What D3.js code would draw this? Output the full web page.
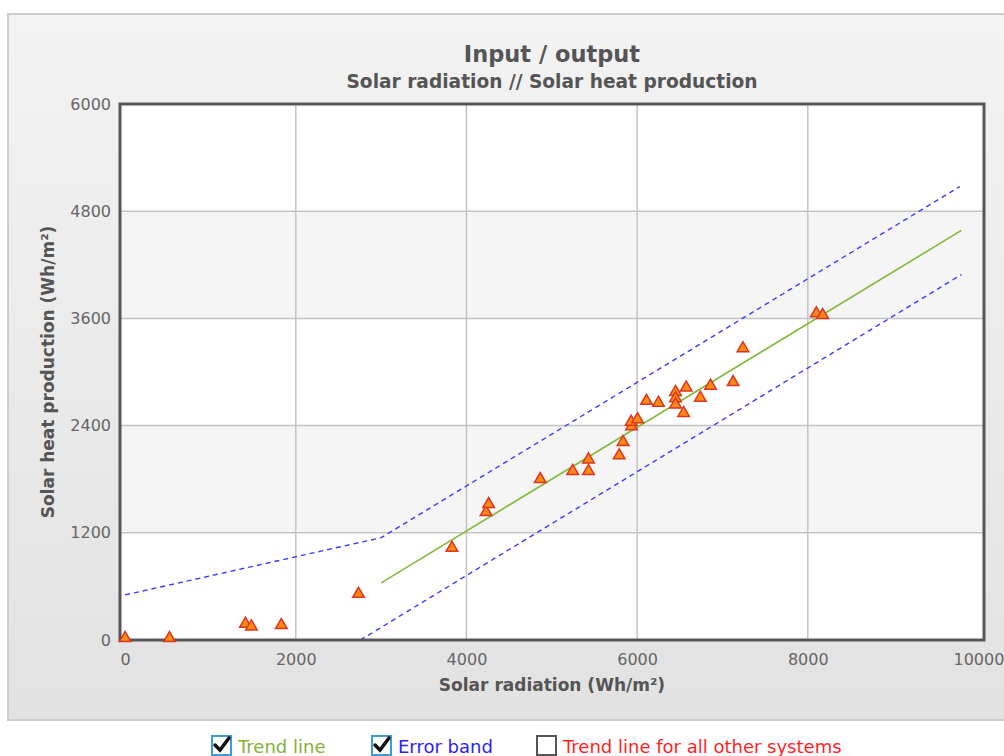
<!DOCTYPE html>
<html>
<head>
<meta charset="utf-8">
<script src="https://cdn.jsdelivr.net/npm/d3@7"></script>
<style>
  body { margin: 0; background: #fff; }
  svg { display: block; }
</style>
</head>
<body>
<svg id="chart" width="1004" height="756"></svg>
<script>
// measured points (solar radiation vs solar heat production, Wh/m²)
const radiation = [0, 520, 1410, 1480, 1830, 2735, 3830, 4230, 4260, 4865, 5245, 5430, 5430, 5790, 5835,
    5935, 5930, 6005, 6110, 6250, 6450, 6450, 6450, 6545, 6575, 6740, 6860, 7125, 7240, 8100, 8175];
const heat = [20, 20, 180, 150, 165, 515, 1030, 1430, 1520, 1800, 1890, 1890, 2020, 2065, 2215,
    2390, 2440, 2470, 2675, 2655, 2775, 2705, 2635, 2540, 2825, 2710, 2845, 2885, 3265, 3655, 3635];

// trend line and error band
const trendX = [3000, 9800];
const trendY = [640, 4585];
const upperX = [0, 3000, 9780];
const upperY = [505, 1145, 5075];
const lowerX = [2757, 9800];
const lowerY = [0, 4090];

const xTicks = [0, 2000, 4000, 6000, 8000, 10000];
const yTicks = [0, 1200, 2400, 3600, 4800, 6000];

const legendItems = ["Trend line", "Error band", "Trend line for all other systems"];
const legendChecked = [true, true, false];
const legendColors = ["#86b135", "#2a1dff", "#ff1f1f"];

const svg = d3.select('#chart');
const pLeft = 120, pRight = 984, pTop = 104, pBottom = 640;

const x = d3.scaleLinear().domain([-60, 10065]).range([pLeft, pRight]);
const y = d3.scaleLinear().domain([0, 6000]).range([pBottom, pTop]);

// panel background
const defs = svg.append('defs');
const grad = defs.append('linearGradient').attr('id', 'panelGrad')
    .attr('x1', 0).attr('y1', 0).attr('x2', 0).attr('y2', 1);
grad.append('stop').attr('offset', '0%').attr('stop-color', '#f3f3f3');
grad.append('stop').attr('offset', '100%').attr('stop-color', '#e2e2e2');
defs.append('clipPath').attr('id', 'plotClip')
    .append('rect').attr('x', pLeft).attr('y', pTop).attr('width', pRight - pLeft).attr('height', pBottom - pTop);

svg.append('rect')
    .attr('x', 8).attr('y', 14).attr('width', 1010).attr('height', 706)
    .attr('fill', 'url(#panelGrad)')
    .attr('stroke', '#cccccc').attr('stroke-width', 2);

// plot background with alternate bands
svg.append('rect').attr('x', pLeft).attr('y', pTop).attr('width', pRight - pLeft).attr('height', pBottom - pTop)
    .attr('fill', '#fff');
const bands = [[1200, 2400], [3600, 4800]];
svg.selectAll('.band').data(bands).enter().append('rect')
    .attr('class', 'band')
    .attr('x', pLeft).attr('width', pRight - pLeft)
    .attr('y', d => y(d[1])).attr('height', d => y(d[0]) - y(d[1]))
    .attr('fill', '#f5f5f5');

// gridlines
svg.selectAll('.vgrid').data(xTicks.filter(d => d > 0 && d < 10000)).enter().append('line')
    .attr('x1', d => x(d)).attr('x2', d => x(d)).attr('y1', pTop).attr('y2', pBottom)
    .attr('stroke', '#c4c4c4').attr('stroke-width', 1.5);
svg.selectAll('.hgrid').data(yTicks.filter(d => d > 0 && d < 6000)).enter().append('line')
    .attr('x1', pLeft).attr('x2', pRight).attr('y1', d => y(d)).attr('y2', d => y(d))
    .attr('stroke', '#c4c4c4').attr('stroke-width', 1.5);

// axes (labels only)
const xAxis = svg.append('g').attr('transform', `translate(0,${pBottom})`)
    .call(d3.axisBottom(x).tickValues(xTicks).tickFormat(d3.format('d')).tickSize(0).tickPadding(14));
xAxis.select('.domain').remove();
xAxis.selectAll('text').attr('font-family', 'DejaVu Sans').attr('font-size', 16).attr('fill', '#666');

const yAxis = svg.append('g').attr('transform', `translate(${pLeft},0)`)
    .call(d3.axisLeft(y).tickValues(yTicks).tickFormat(d3.format('d')).tickSize(0).tickPadding(9));
yAxis.select('.domain').remove();
yAxis.selectAll('text').attr('font-family', 'DejaVu Sans').attr('font-size', 16).attr('fill', '#666');

// lines
const plot = svg.append('g').attr('clip-path', 'url(#plotClip)');
const line = d3.line().x(d => x(d[0])).y(d => y(d[1]));

plot.append('path').datum(d3.zip(upperX, upperY))
    .attr('d', line).attr('fill', 'none')
    .attr('stroke', '#3b3bff').attr('stroke-width', 1.4).attr('stroke-dasharray', '5,4');
plot.append('path').datum(d3.zip(lowerX, lowerY))
    .attr('d', line).attr('fill', 'none')
    .attr('stroke', '#3b3bff').attr('stroke-width', 1.4).attr('stroke-dasharray', '5,4');
plot.append('path').datum(d3.zip(trendX, trendY))
    .attr('d', line).attr('fill', 'none')
    .attr('stroke', '#84b83a').attr('stroke-width', 1.6);

// frame
svg.append('rect').attr('x', pLeft).attr('y', pTop).attr('width', pRight - pLeft).attr('height', pBottom - pTop)
    .attr('fill', 'none').attr('stroke', '#575757').attr('stroke-width', 3);

// points
const tri = d3.symbol().type(d3.symbolTriangle).size(58);
svg.selectAll('.pt').data(d3.zip(radiation, heat)).enter().append('path')
    .attr('class', 'pt')
    .attr('transform', d => `translate(${x(d[0])},${y(d[1])})`)
    .attr('d', tri)
    .attr('fill', '#ff8a12').attr('stroke', '#dc3522').attr('stroke-width', 1.5);

// titles
svg.append('text').attr('x', 552).attr('y', 62).attr('text-anchor', 'middle')
    .attr('font-family', 'DejaVu Sans').attr('font-weight', 'bold').attr('font-size', 22.5)
    .attr('fill', '#555').text('Input / output');
svg.append('text').attr('x', 552).attr('y', 88).attr('text-anchor', 'middle')
    .attr('font-family', 'DejaVu Sans').attr('font-weight', 'bold').attr('font-size', 18.6)
    .attr('fill', '#555').text('Solar radiation // Solar heat production');
svg.append('text').attr('x', 552).attr('y', 691).attr('text-anchor', 'middle')
    .attr('font-family', 'DejaVu Sans').attr('font-weight', 'bold').attr('font-size', 17)
    .attr('fill', '#555').text('Solar radiation (Wh/m²)');
svg.append('text').attr('transform', 'translate(54,372) rotate(-90)').attr('text-anchor', 'middle')
    .attr('font-family', 'DejaVu Sans').attr('font-weight', 'bold').attr('font-size', 17)
    .attr('fill', '#555').text('Solar heat production (Wh/m²)');

// legend checkboxes under the panel
const legendX = [211, 371, 536];
const lg = svg.selectAll('.lg').data(legendItems).enter().append('g')
    .attr('class', 'lg')
    .attr('transform', (d, i) => `translate(${legendX[i]},735)`);
lg.append('rect').attr('x', 1).attr('y', 1).attr('width', 19).attr('height', 19)
    .attr('fill', '#fff')
    .attr('stroke', (d, i) => legendChecked[i] ? '#3e9bd8' : '#555')
    .attr('stroke-width', 2);
lg.filter((d, i) => legendChecked[i]).append('path')
    .attr('d', 'M4,10 L9,15 L18,3')
    .attr('fill', 'none').attr('stroke', '#111').attr('stroke-width', 3.5)
    .attr('stroke-linecap', 'round');
lg.append('text').attr('x', 27).attr('y', 18)
    .attr('font-family', 'DejaVu Sans').attr('font-size', 18)
    .attr('fill', (d, i) => legendColors[i])
    .text(d => d);
</script>
</body>
</html>
